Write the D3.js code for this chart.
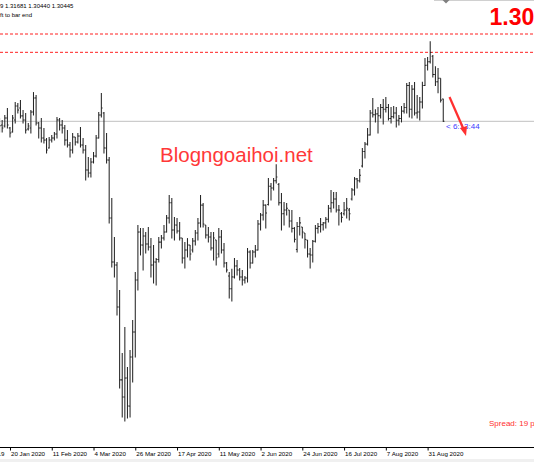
<!DOCTYPE html>
<html><head><meta charset="utf-8">
<script src="https://cdn.jsdelivr.net/npm/d3@7"></script>
<style>html,body{margin:0;padding:0;background:#fff;overflow:hidden}svg{display:block}</style>
</head><body><svg id="c" width="534" height="462"></svg>
<script>
// ---- data (GBPUSD daily) ----
const firstAxisDate = "2019-12-27";
const lastBarDate = "2020-09-08";
const firstBarDate = "2020-01-14";
const opens = [
1.3015,1.3024,1.3019,1.3063,1.3008,1.2986,1.3052,1.3128,1.3117,1.3074,
1.3052,1.3002,1.3008,1.3095,1.3172,1.3035,1.3008,1.2953,1.2942,1.2899,
1.2942,1.2953,1.2975,1.3052,1.3024,1.3008,1.2942,1.2915,1.2888,1.2959,
1.2932,1.2964,1.2915,1.2888,1.2779,1.2762,1.2822,1.2855,1.2953,1.3079,
1.3090,1.2899,1.2833,1.2517,1.2276,1.2260,1.2031,1.1633,1.1540,1.1643,
1.1490,1.1758,1.1894,1.2178,1.2440,1.2369,1.2418,1.2375,1.2358,1.2260,
1.2276,1.2290,1.2385,1.2407,1.2440,1.2517,1.2600,1.2451,1.2478,1.2446,
1.2407,1.2298,1.2342,1.2369,1.2342,1.2391,1.2435,1.2489,1.2587,1.2478,
1.2424,1.2413,1.2353,1.2397,1.2320,1.2413,1.2342,1.2271,1.2200,1.2130,
1.2195,1.2255,1.2233,1.2195,1.2178,1.2189,1.2331,1.2271,1.2331,1.2342,
1.2484,1.2533,1.2587,1.2590,1.2690,1.2680,1.2720,1.2700,1.2600,1.2540,
1.2560,1.2560,1.2500,1.2460,1.2345,1.2470,1.2467,1.2435,1.2397,1.2320,
1.2315,1.2390,1.2460,1.2470,1.2480,1.2490,1.2510,1.2570,1.2600,1.2620,
1.2560,1.2540,1.2540,1.2560,1.2560,1.2620,1.2670,1.2730,1.2720,1.2800,
1.2880,1.2920,1.2970,1.3090,1.3080,1.3085,1.3075,1.3120,1.3110,1.3120,
1.3060,1.3070,1.3090,1.3050,1.3060,1.3100,1.3120,1.3240,1.3110,1.3220,
1.3090,1.3095,1.3150,1.3240,1.3350,1.3370,1.3400,1.3300,1.3260,1.3280,
1.31659];
const highs = [
1.3063,1.3052,1.3079,1.3117,1.3013,1.3079,1.3150,1.3144,1.3161,1.3106,
1.3090,1.3035,1.3106,1.3204,1.3188,1.3041,1.3063,1.3008,1.2953,1.2959,
1.2970,1.2986,1.3068,1.3063,1.3052,1.3024,1.2997,1.2932,1.2981,1.2959,
1.2981,1.3013,1.2953,1.2915,1.2850,1.2844,1.2877,1.2970,1.3095,1.3199,
1.3095,1.2981,1.2850,1.2626,1.2413,1.2276,1.2124,1.1780,1.1922,1.1703,
1.1796,1.1960,1.2222,1.2478,1.2462,1.2462,1.2440,1.2467,1.2407,1.2369,
1.2298,1.2413,1.2424,1.2478,1.2533,1.2642,1.2626,1.2522,1.2517,1.2495,
1.2407,1.2386,1.2407,1.2369,1.2407,1.2451,1.2517,1.2642,1.2598,1.2478,
1.2467,1.2440,1.2440,1.2397,1.2462,1.2451,1.2380,1.2276,1.2222,1.2240,
1.2298,1.2287,1.2244,1.2233,1.2200,1.2353,1.2340,1.2342,1.2369,1.2506,
1.2544,1.2615,1.2590,1.2735,1.2708,1.2735,1.2810,1.2708,1.2653,1.2604,
1.2598,1.2560,1.2560,1.2467,1.2495,1.2522,1.2467,1.2435,1.2397,1.2353,
1.2397,1.2478,1.2489,1.2517,1.2495,1.2522,1.2587,1.2669,1.2658,1.2658,
1.2587,1.2549,1.2604,1.2626,1.2571,1.2680,1.2740,1.2735,1.2784,1.2899,
1.2932,1.3008,1.3106,1.3172,1.3110,1.3123,1.3139,1.3166,1.3177,1.3139,
1.3123,1.3128,1.3123,1.3079,1.3128,1.3144,1.3253,1.3259,1.3243,1.3259,
1.3188,1.3177,1.3260,1.3390,1.3395,1.3482,1.3406,1.3345,1.3335,1.3280,
1.31681];
const lows = [
1.2986,1.2986,1.3013,1.3008,1.2959,1.2986,1.3035,1.3090,1.3063,1.3035,
1.2981,1.2997,1.2981,1.3079,1.3024,1.2953,1.2932,1.2926,1.2871,1.2899,
1.2932,1.2942,1.2953,1.2997,1.2981,1.2915,1.2904,1.2850,1.2871,1.2915,
1.2926,1.2904,1.2871,1.2724,1.2740,1.2740,1.2817,1.2850,1.2953,1.3068,
1.2871,1.2817,1.2489,1.2249,1.2195,1.1987,1.1589,1.1430,1.1409,1.1425,
1.1430,1.1622,1.1758,1.2124,1.2315,1.2233,1.2326,1.2342,1.2195,1.2162,
1.2151,1.2276,1.2353,1.2397,1.2440,1.2489,1.2407,1.2397,1.2435,1.2397,
1.2271,1.2244,1.2304,1.2287,1.2331,1.2369,1.2397,1.2467,1.2467,1.2407,
1.2386,1.2342,1.2287,1.2260,1.2304,1.2326,1.2249,1.2222,1.2080,1.2064,
1.2189,1.2206,1.2178,1.2151,1.2162,1.2167,1.2244,1.2271,1.2304,1.2342,
1.2451,1.2506,1.2462,1.2587,1.2615,1.2669,1.2708,1.2587,1.2451,1.2478,
1.2533,1.2467,1.2440,1.2386,1.2331,1.2424,1.2407,1.2353,1.2304,1.2244,
1.2276,1.2386,1.2435,1.2440,1.2451,1.2462,1.2495,1.2549,1.2571,1.2549,
1.2478,1.2495,1.2533,1.2517,1.2506,1.2615,1.2642,1.2680,1.2713,1.2795,
1.2844,1.2915,1.2970,1.3068,1.3040,1.2981,1.3063,1.3030,1.3095,1.3052,
1.3035,1.3063,1.3013,1.3024,1.3041,1.3090,1.3090,1.3068,1.3063,1.3079,
1.3063,1.3052,1.3117,1.3240,1.3325,1.3363,1.3286,1.3240,1.3200,1.3150,
1.30440];
const closes = [
1.3020,1.3008,1.3063,1.3024,1.2981,1.3063,1.3128,1.3106,1.3074,1.3052,
1.2997,1.3019,1.3095,1.3172,1.3035,1.3008,1.2953,1.2942,1.2888,1.2942,
1.2953,1.2975,1.3052,1.3024,1.3008,1.2942,1.2915,1.2888,1.2959,1.2932,
1.2964,1.2915,1.2888,1.2779,1.2762,1.2822,1.2855,1.2953,1.3079,1.3117,
1.2899,1.2833,1.2517,1.2276,1.2260,1.2031,1.1633,1.1540,1.1643,1.1490,
1.1758,1.1894,1.2178,1.2440,1.2369,1.2418,1.2375,1.2358,1.2260,1.2276,
1.2290,1.2385,1.2407,1.2440,1.2517,1.2600,1.2451,1.2478,1.2446,1.2407,
1.2298,1.2342,1.2369,1.2320,1.2391,1.2435,1.2489,1.2587,1.2484,1.2424,
1.2413,1.2353,1.2407,1.2300,1.2413,1.2342,1.2271,1.2233,1.2130,1.2195,
1.2255,1.2233,1.2195,1.2178,1.2189,1.2331,1.2271,1.2331,1.2342,1.2484,
1.2533,1.2587,1.2544,1.2690,1.2680,1.2720,1.2740,1.2600,1.2540,1.2560,
1.2570,1.2500,1.2460,1.2400,1.2470,1.2490,1.2440,1.2400,1.2320,1.2315,
1.2390,1.2460,1.2470,1.2480,1.2490,1.2510,1.2570,1.2600,1.2620,1.2560,
1.2560,1.2520,1.2560,1.2570,1.2540,1.2670,1.2730,1.2720,1.2750,1.2880,
1.2920,1.2970,1.3090,1.3080,1.3085,1.3075,1.3120,1.3110,1.3120,1.3060,
1.3070,1.3090,1.3050,1.3060,1.3100,1.3120,1.3240,1.3110,1.3220,1.3090,
1.3095,1.3150,1.3240,1.3350,1.3370,1.3420,1.3300,1.3260,1.3280,1.3160,
1.30445];
const tickDates = ["2019-12-27","2020-01-20","2020-02-11","2020-03-04","2020-03-26","2020-04-17",
  "2020-05-11","2020-06-02","2020-06-24","2020-07-16","2020-08-07","2020-08-31"];
const bidPrice = 1.30445;
const levelPrices = [1.3521, 1.3421];
const headerLine1 = "9 1.31681 1.30440 1.30445";
const headerLine2 = "ft to bar end";
const bigPriceText = "1.30";
const watermark = "Blogngoaihoi.net";
const timerText = "< 6:13:44";
const spreadText = "Spread: 19 points";

// ---- scales ----
const W = 534, H = 462;
const svg = d3.select("#c");
const parse = d3.timeParse("%Y-%m-%d");
const allDates = d3.timeDay.range(parse(firstAxisDate), d3.timeDay.offset(parse(lastBarDate), 1))
  .filter(d => d.getDay() !== 0 && d.getDay() !== 6);
const x = d3.scalePoint().domain(allDates.map(d => +d)).range([-31.76, 443.26]);
const y = d3.scaleLinear().domain([1.14, 1.35]).range([422.57, 37.85]);

const startIdx = allDates.findIndex(d => +d === +parse(firstBarDate));
const bars = opens.map((o, i) => ({date: +allDates[startIdx + i], o, h: highs[i], l: lows[i], c: closes[i]}));

svg.append("rect").attr("width", W).attr("height", H).attr("fill", "#fff");

// top strip with chart-shift marker
svg.append("line").attr("x1", 434).attr("x2", W).attr("y1", 0.5).attr("y2", 0.5)
  .attr("stroke", "#d0d0d0").attr("stroke-width", 1);
svg.append("path").attr("d", "M442.5,0 L449.5,0 L446,3.5 Z").attr("fill", "#808080");

// level lines
svg.selectAll(".lvl").data(levelPrices).join("line")
  .attr("x1", 0).attr("x2", W).attr("y1", d => y(d)).attr("y2", d => y(d))
  .attr("stroke", "#ff2020").attr("stroke-width", 1).attr("stroke-dasharray", "3,2");

// bid line
svg.append("line").attr("x1", 0).attr("x2", W).attr("y1", y(bidPrice)).attr("y2", y(bidPrice))
  .attr("stroke", "#c0c0c0").attr("stroke-width", 1);

// bars
const g = svg.append("g").attr("stroke", "#262626").attr("stroke-width", 1.05);
g.selectAll(".hl").data(bars).join("line")
  .attr("x1", d => x(d.date)).attr("x2", d => x(d.date))
  .attr("y1", d => y(d.h)).attr("y2", d => y(d.l) + 0.5);
g.selectAll(".op").data(bars).join("line")
  .attr("x1", d => x(d.date) - 1.2).attr("x2", d => x(d.date))
  .attr("y1", d => y(d.o)).attr("y2", d => y(d.o));
g.selectAll(".cl").data(bars).join("line")
  .attr("x1", d => x(d.date)).attr("x2", d => x(d.date) + 1.2)
  .attr("y1", d => y(d.c)).attr("y2", d => y(d.c));

// x axis
const fmt = d3.timeFormat("%-d %b %Y");
const axisY = 447.5;
const ax = svg.append("g").attr("transform", `translate(0,${axisY})`)
  .call(d3.axisBottom(x).tickValues(tickDates.map(s => +parse(s))).tickSize(3).tickFormat(d => fmt(new Date(d))));
ax.select(".domain").remove();
ax.selectAll(".tick line").attr("stroke", "#000");
ax.selectAll(".tick text").attr("text-anchor", "start").attr("x", 0.5).attr("y", 3.8).attr("dy", "0.71em")
  .attr("font-family", "Liberation Sans, Arial, sans-serif").attr("font-size", 6.2).attr("fill", "#000");
svg.append("line").attr("x1", 0).attr("x2", W).attr("y1", axisY).attr("y2", axisY).attr("stroke", "#000");
svg.append("rect").attr("x", 0).attr("y", 459).attr("width", W).attr("height", 3).attr("fill", "#f0f0f0");

// header texts
svg.append("text").attr("x", 0).attr("y", 8.3).text(headerLine1)
  .attr("font-family", "Liberation Sans, Arial, sans-serif").attr("font-size", 6).attr("fill", "#000");
svg.append("text").attr("x", 0).attr("y", 16.6).text(headerLine2)
  .attr("font-family", "Liberation Sans, Arial, sans-serif").attr("font-size", 6).attr("fill", "#000");

// big price
svg.append("text").attr("x", 489.5).attr("y", 25).text(bigPriceText)
  .attr("font-family", "Liberation Sans, Arial, sans-serif").attr("font-weight", "bold")
  .attr("font-size", 23).attr("fill", "#ff0000");

// watermark
svg.append("text").attr("x", 160).attr("y", 162).text(watermark)
  .attr("font-family", "Liberation Sans, Arial, sans-serif").attr("font-size", 20.5).attr("fill", "#ff3838");

// timer text
svg.append("text").attr("x", 446).attr("y", y(bidPrice) + 7.6).text(timerText)
  .attr("font-family", "Liberation Sans, Arial, sans-serif").attr("font-size", 8).attr("fill", "#3a3aff");

// red arrow annotation
svg.append("line").attr("x1", 449.5).attr("y1", 97).attr("x2", 463.5).attr("y2", 129)
  .attr("stroke", "#ff3030").attr("stroke-width", 2.2);
svg.append("path").attr("d", "M460,128 L466,136 L467,126 Z").attr("fill", "#ff3030");

// spread
svg.append("text").attr("x", 489).attr("y", 426).text(spreadText)
  .attr("font-family", "Liberation Sans, Arial, sans-serif").attr("font-size", 8).attr("fill", "#ff3030");
</script></body></html>
